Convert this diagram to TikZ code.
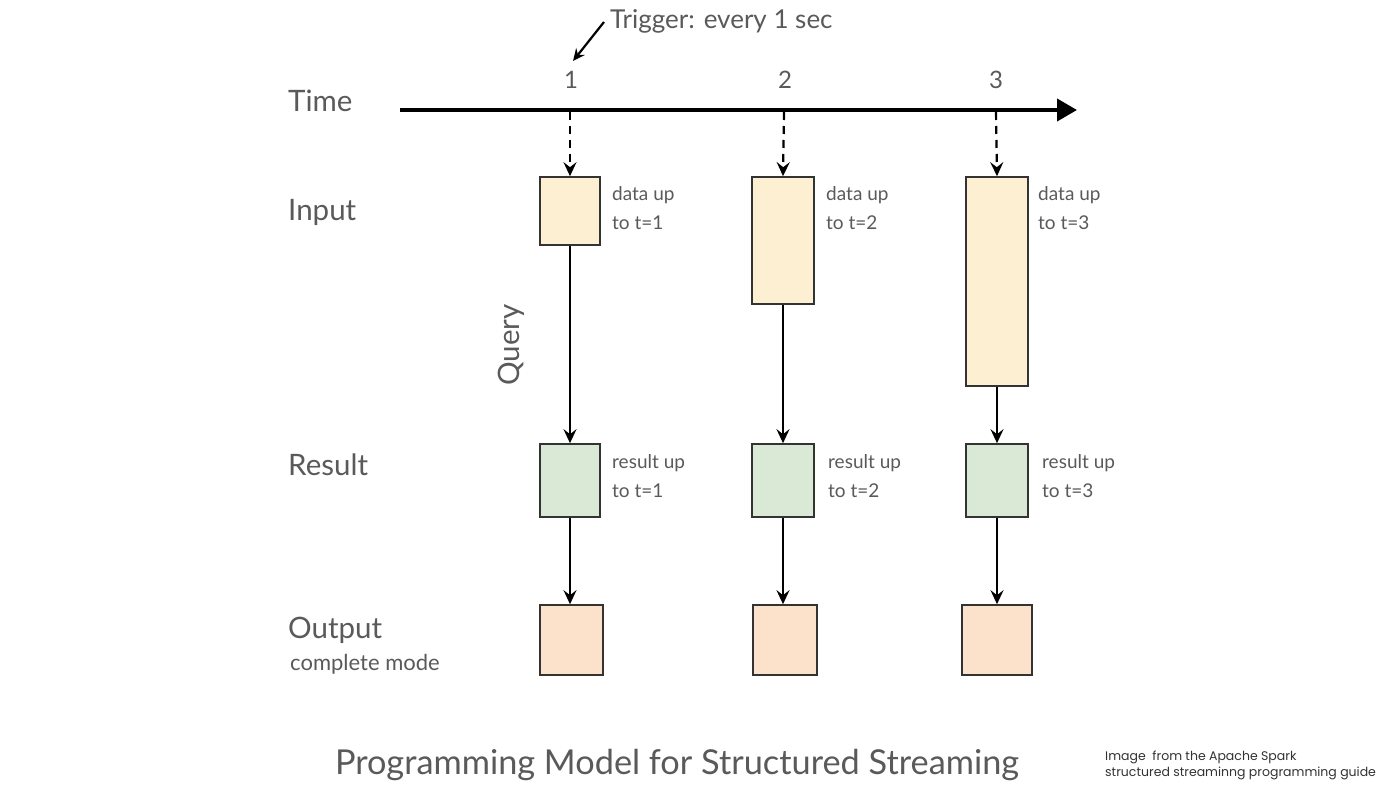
\documentclass[tikz,border=0pt]{standalone}
\usepackage{fontspec}
\setmainfont{Lato}
\newfontfamily\notefont{Poppins}
\usetikzlibrary{arrows.meta}
\definecolor{txt}{HTML}{5A5A5A}
\definecolor{infill}{HTML}{FDEFD2}
\definecolor{resfill}{HTML}{D9E9D5}
\definecolor{outfill}{HTML}{FCE2CB}
\definecolor{edge}{HTML}{333333}
\begin{document}
\begin{tikzpicture}[x=1pt,y=-1pt,
  lbl/.style={anchor=west,text=txt,font=\fontsize{29.5}{33}\selectfont,inner sep=0pt},
  small/.style={anchor=west,text=txt,font=\fontsize{19}{29}\selectfont,inner sep=0pt,align=left},
  num/.style={text=txt,font=\fontsize{24}{28}\selectfont,inner sep=0pt},
  boxbase/.style={draw=edge,line width=1.6pt,inner sep=0pt},
  inbox/.style={boxbase,fill=infill},
  resbox/.style={boxbase,fill=resfill},
  outbox/.style={boxbase,fill=outfill},
  flow/.style={line width=2.2pt,black,-{Stealth[length=14pt,width=13pt,inset=5pt]}},
  dflow/.style={flow,dashed,dash pattern=on 8pt off 6pt}
]
\useasboundingbox (0,0) rectangle (1400,789);
\fill[white] (0,0) rectangle (1400,789);

% time axis
\coordinate (ts) at (400,110);
\coordinate (te) at (1077,110);
\draw[line width=4pt,-{Triangle[length=20pt,width=22pt]}] (ts) -- (te);
\node[lbl] (time) at (288,101) {Time};
\node[num] (n1) at (571,80) {1};
\node[num] (n2) at (785,80) {2};
\node[num] (n3) at (996,80) {3};
\coordinate (a1) at (570,112);
\coordinate (a2) at (784,112);
\coordinate (a3) at (996,112);

% trigger
\node[text=txt,font=\fontsize{26}{30}\selectfont,anchor=west,inner sep=0pt] (trig) at (610,21) {Trigger: every 1 sec};
\coordinate (tr0) at (604,22);
\coordinate (tr1) at (573,61);
\draw[flow,-{Stealth[length=12pt,width=11pt,inset=4pt]}] (tr0) -- (tr1);

% row labels
\node[lbl] (input) at (288,212) {Input};
\node[lbl] (result) at (288,465) {Result};
\node[lbl] (output) at (288,630) {Output};
\node[anchor=west,text=txt,font=\fontsize{22}{26}\selectfont,inner sep=0pt] (mode) at (290,664) {complete mode};
\node[lbl,anchor=center,rotate=90] (query) at (511,345) {Query};

% input boxes
\node[inbox,minimum width=60pt,minimum height=68pt] (i1) at (570,211) {};
\node[inbox,minimum width=62pt,minimum height=127pt] (i2) at (783,240.5) {};
\node[inbox,minimum width=62pt,minimum height=209pt] (i3) at (997,281.5) {};

% result boxes
\node[resbox,minimum width=60pt,minimum height=73pt] (r1) at (570,480.5) {};
\node[resbox,minimum width=62pt,minimum height=73pt] (r2) at (783,480.5) {};
\node[resbox,minimum width=62pt,minimum height=73pt] (r3) at (997,480.5) {};

% output boxes
\node[outbox,minimum width=63pt,minimum height=70pt] (o1) at (571.5,640) {};
\node[outbox,minimum width=64pt,minimum height=70pt] (o2) at (785,640) {};
\node[outbox,minimum width=70pt,minimum height=70pt] (o3) at (997,640) {};

% side labels
\node[small] (d1) at (612,208) {data up\\to t=1};
\node[small] (d2) at (826,208) {data up\\to t=2};
\node[small] (d3) at (1038,208) {data up\\to t=3};
\node[small] (s1) at (612,476) {result up\\to t=1};
\node[small] (s2) at (828,476) {result up\\to t=2};
\node[small] (s3) at (1042,476) {result up\\to t=3};

% arrows
\draw[dflow] (a1) -- (i1.north);
\draw[dflow] (a2) -- (i2.north);
\draw[dflow] (a3) -- (i3.north);
\draw[flow] (i1.south) -- (r1.north);
\draw[flow] (i2.south) -- (r2.north);
\draw[flow] (i3.south) -- (r3.north);
\draw[flow] (r1.south) -- (r1.south |- o1.north);
\draw[flow] (r2.south) -- (r2.south |- o2.north);
\draw[flow] (r3.south) -- (r3.south |- o3.north);

% title and note
\node[text=txt,font=\fontsize{34.3}{38}\selectfont,inner sep=0pt] (title) at (677,765) {Programming Model for Structured Streaming};
\node[anchor=west,text=black!80,font=\notefont\fontsize{12.5}{16}\selectfont,align=left,inner sep=0pt] (note) at (1105,765) {Image\ \ from the Apache Spark\\structured streaminng programming guide};
\end{tikzpicture}
\end{document}
